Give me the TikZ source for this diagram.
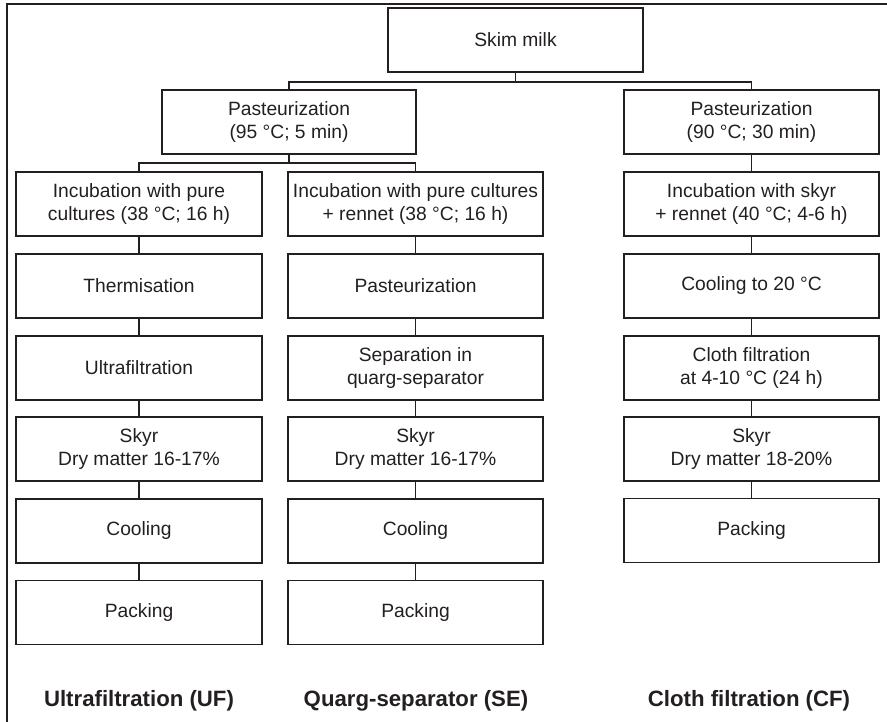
\documentclass[tikz,border=0pt]{standalone}
\usepackage{fontspec}
\setmainfont{Liberation Sans}
\definecolor{ink}{RGB}{35,31,32}
\begin{document}
\begin{tikzpicture}[x=1pt,y=-1pt,
  every node/.style={text=ink, font=\fontsize{19.25}{23}\selectfont},
  stepbox/.style={draw=ink, line width=1.4pt, inner sep=0pt, align=center, minimum height=64pt},
  wA/.style={minimum width=246pt},
  wB/.style={minimum width=255pt},
  link/.style={draw=ink, line width=1.4pt},
  method/.style={font=\fontsize{22.2}{26}\selectfont\bfseries, inner sep=0pt}
]
\useasboundingbox (0,0) rectangle (887,722);
% frame
\draw[ink, line width=1.4pt] (7,730) -- (7,4) -- (895,4);

% top
\node[stepbox,wB] (skim) at (515.5,40) {Skim milk};
\node[stepbox,minimum width=254pt] (pastL) at (289,122) {Pasteurization\\(95 °C; 5 min)};
\node[stepbox,wB] (pastR) at (751.5,122) {Pasteurization\\(90 °C; 30 min)};

% column 1 (UF)
\node[stepbox,wA] (a1) at (139,204) {Incubation with pure\\cultures (38 °C; 16 h)};
\node[stepbox,wA] (a2) at (139,286) {Thermisation};
\node[stepbox,wA] (a3) at (139,368) {Ultrafiltration};
\node[stepbox,wA] (a4) at (139,449) {Skyr\\Dry matter 16-17\%};
\node[stepbox,wA] (a5) at (139,531) {Cooling};
\node[stepbox,wA] (a6) at (139,612.5) {Packing};

% column 2 (SE)
\node[stepbox,wB] (b1) at (415.5,204) {Incubation with pure cultures\\+ rennet (38 °C; 16 h)};
\node[stepbox,wB] (b2) at (415.5,286) {Pasteurization};
\node[stepbox,wB] (b3) at (415.5,368) {Separation in\\quarg-separator};
\node[stepbox,wB] (b4) at (415.5,449) {Skyr\\Dry matter 16-17\%};
\node[stepbox,wB] (b5) at (415.5,531) {Cooling};
\node[stepbox,wB] (b6) at (415.5,612.5) {Packing};

% column 3 (CF)
\node[stepbox,wB] (c1) at (751.5,204) {Incubation with skyr\\+ rennet (40 °C; 4-6 h)};
\node[stepbox,wB] (c2) at (751.5,286) {Cooling to 20 °C};
\node[stepbox,wB] (c3) at (751.5,368) {Cloth filtration\\at 4-10 °C (24 h)};
\node[stepbox,wB] (c4) at (751.5,449) {Skyr\\Dry matter 18-20\%};
\node[stepbox,wB] (c5) at (751.5,530.5) {Packing};

% method labels
\node[method] (lA) at (139,701) {Ultrafiltration (UF)};
\node[method] (lB) at (416,701) {Quarg-separator (SE)};
\node[method] (lC) at (749,701) {Cloth filtration (CF)};

% connectors
\coordinate (toprail) at (0,82);
\coordinate (midrail) at (0,163);
\draw[link] (skim.south) -- (skim.south |- toprail);
\draw[link] (pastL.north) -- (pastL.north |- toprail) -| (pastR.north);
\draw[link] (pastL.south) -- (pastL.south |- midrail);
\draw[link] (a1.north) -- (a1.north |- midrail) -| (b1.north);
\draw[link] (pastR.south) -- (c1.north);

\draw[link] (a1.south) -- (a2.north);
\draw[link] (a2.south) -- (a3.north);
\draw[link] (a3.south) -- (a4.north);
\draw[link] (a4.south) -- (a5.north);
\draw[link] (a5.south) -- (a6.north);

\draw[link] (b1.south) -- (b2.north);
\draw[link] (b2.south) -- (b3.north);
\draw[link] (b3.south) -- (b4.north);
\draw[link] (b4.south) -- (b5.north);
\draw[link] (b5.south) -- (b6.north);

\draw[link] (c1.south) -- (c2.north);
\draw[link] (c2.south) -- (c3.north);
\draw[link] (c3.south) -- (c4.north);
\draw[link] (c4.south) -- (c5.north);
\end{tikzpicture}
\end{document}
